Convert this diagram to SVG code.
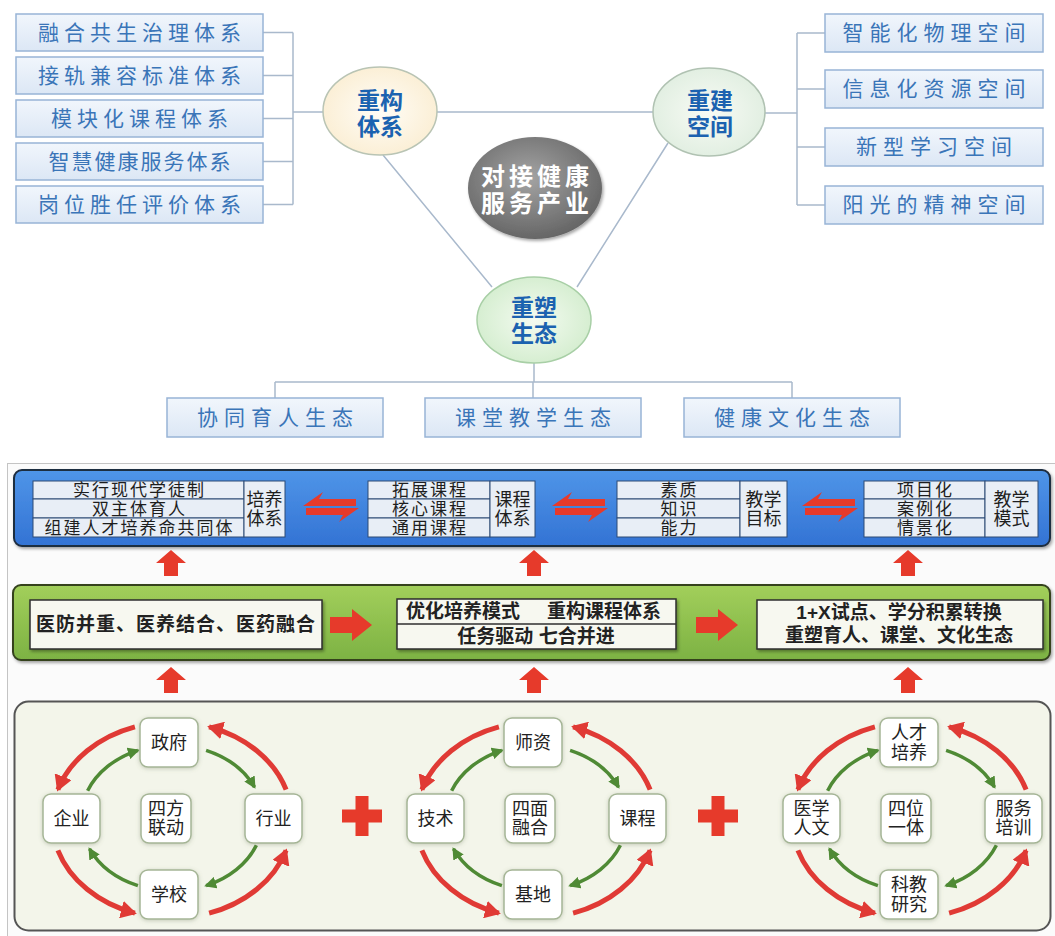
<svg xmlns="http://www.w3.org/2000/svg" width="1055" height="936" viewBox="0 0 1055 936">
<style>
text{font-family:"Liberation Sans","Noto Sans CJK SC",sans-serif;}
.lb{fill:url(#gBox);stroke:#98b4d6;stroke-width:1.5}
.lt{font-size:21px;fill:#3a75b8;text-anchor:middle;letter-spacing:5px}
.rt{font-size:21px;fill:#3a75b8;text-anchor:middle;letter-spacing:6px}
.con{fill:none;stroke:#a9b9cc;stroke-width:1.5}
.ct{font-size:23px;font-weight:bold;fill:#1b62b0;text-anchor:middle}
.cell{fill:#e8eef6;stroke:#2d4a74;stroke-width:1}
.tt{font-size:17px;fill:#1e1e1e;text-anchor:middle;letter-spacing:2px}
.tl{font-size:18px;fill:#1e1e1e;text-anchor:middle}
.gb{fill:#f7f8f0;stroke:#2f2f2f;stroke-width:1.5}
.gt{font-size:19px;font-weight:bold;fill:#222;text-anchor:middle}
.red{fill:#e63a2b}
.nb{fill:#fff;stroke:#a5b596;stroke-width:1.5}
.nt{font-size:18px;fill:#222;text-anchor:middle}
.ra{fill:none;stroke:#e03a35;stroke-width:5;marker-end:url(#mr)}
.ga{fill:none;stroke:#4f8a35;stroke-width:3.5;marker-end:url(#mg)}
</style>
<defs>
<linearGradient id="gBox" x1="0" y1="0" x2="0" y2="1"><stop offset="0" stop-color="#f1f6fc"/><stop offset="1" stop-color="#dce7f5"/></linearGradient>
<radialGradient id="gCream" cx="0.5" cy="0.5" r="0.5"><stop offset="0" stop-color="#fffdf7"/><stop offset="1" stop-color="#fbefd6"/></radialGradient>
<radialGradient id="gMint" cx="0.5" cy="0.5" r="0.5"><stop offset="0" stop-color="#f8fbf5"/><stop offset="1" stop-color="#e2efe2"/></radialGradient>
<radialGradient id="gGreen" cx="0.5" cy="0.5" r="0.5"><stop offset="0" stop-color="#f4fbf1"/><stop offset="1" stop-color="#d6eed1"/></radialGradient>
<radialGradient id="gGray" cx="0.45" cy="0.4" r="0.6"><stop offset="0" stop-color="#a4a4a4"/><stop offset="1" stop-color="#666"/></radialGradient>
<linearGradient id="gBlue" x1="0" y1="0" x2="0" y2="1"><stop offset="0" stop-color="#4f95e8"/><stop offset="1" stop-color="#3373d4"/></linearGradient>
<linearGradient id="gLime" x1="0" y1="0" x2="0" y2="1"><stop offset="0" stop-color="#a2cf5b"/><stop offset="1" stop-color="#7db243"/></linearGradient>
<filter id="sh" x="-10%" y="-10%" width="130%" height="140%"><feDropShadow dx="1.5" dy="2" stdDeviation="1.5" flood-color="#000" flood-opacity="0.35"/></filter>
<filter id="glow" x="-20%" y="-20%" width="140%" height="140%"><feDropShadow dx="0" dy="1" stdDeviation="2" flood-color="#6a7a5a" flood-opacity="0.35"/></filter>
<marker id="mr" viewBox="0 0 16 18" refX="14" refY="9" markerWidth="16" markerHeight="18" markerUnits="userSpaceOnUse" orient="auto"><path d="M0,0 L16,9 L0,18 Z" fill="#e03a35"/></marker>
<marker id="mg" viewBox="0 0 12 12" refX="10" refY="6" markerWidth="12" markerHeight="12" markerUnits="userSpaceOnUse" orient="auto"><path d="M0,0 L12,6 L0,12 Z" fill="#4f8a35"/></marker>
<g id="ring">
<path class="ra" d="M37.1,913.2 A120,98 0 0 0 114.1,850.3"/>
<path class="ra" d="M114.1,789.7 A120,98 0 0 0 37.1,726.8"/>
<path class="ra" d="M-37.1,726.8 A120,98 0 0 0 -114.1,789.7"/>
<path class="ra" d="M-114.1,850.3 A120,98 0 0 0 -37.1,913.2"/>
<path class="ga" d="M-84.4,790.7 A91,73 0 0 1 -34.1,750.3"/>
<path class="ga" d="M34.1,750.3 A91,73 0 0 1 82.5,787.1"/>
<path class="ga" d="M84.4,845.3 A91,73 0 0 1 34.1,885.7"/>
<path class="ga" d="M-34.1,885.7 A91,73 0 0 1 -82.5,848.9"/>
</g>
<g id="dbl" class="red">
<polygon points="25,-8 -12,-8 -8,-15 -28,-1 25,-1"/>
<polygon points="-25,8 12,8 8,15 28,1 -25,1"/>
</g>
<path id="up" class="red" d="M0,0 L15,13 L7,13 L7,26 L-7,26 L-7,13 L-15,13 Z"/>
<path id="rtar" class="red" d="M0,-8 L22,-8 L22,-16 L42,0 L22,16 L22,8 L0,8 Z"/>
<path id="plus" class="red" d="M-6.5,-20 H6.5 V-6.5 H20 V6.5 H6.5 V20 H-6.5 V6.5 H-20 V-6.5 H-6.5 Z"/>
</defs>

<rect x="0" y="0" width="1055" height="936" fill="#fff"/>

<!-- connectors -->
<g id="connectors">
<path class="con" d="M263,32.5 H293 M263,75.5 H293 M263,118.5 H293 M263,161.5 H293 M263,204.5 H293 M293,32.5 V204.5 M293,112 H323"/>
<path class="con" d="M765,113 H797 M797,33 V205 M797,33 H825 M797,89 H825 M797,147 H825 M797,205 H825"/>
<path class="con" d="M437,112 H653 M383,155 L492,287 M668,143 L577,287"/>
<path class="con" d="M534,363 V382 M275,382 H792 M275,382 V398 M533,382 V398 M792,382 V398"/>
</g>

<!-- left list -->
<g id="list-left">
<g id="l1"><rect class="lb" x="16" y="14" width="247" height="37"/><text class="lt" x="142" y="40">融合共生治理体系</text></g>
<g id="l2"><rect class="lb" x="16" y="57" width="247" height="37"/><text class="lt" x="142" y="83">接轨兼容标准体系</text></g>
<g id="l3"><rect class="lb" x="16" y="100" width="247" height="37"/><text class="lt" x="142" y="126">模块化课程体系</text></g>
<g id="l4"><rect class="lb" x="16" y="143" width="247" height="37"/><text class="lt" x="140.5" y="169" style="letter-spacing:2px">智慧健康服务体系</text></g>
<g id="l5"><rect class="lb" x="16" y="186" width="247" height="37"/><text class="lt" x="142" y="212">岗位胜任评价体系</text></g>
</g>

<!-- right list -->
<g id="list-right">
<g id="r1"><rect class="lb" x="825" y="14" width="218" height="38"/><text class="rt" x="937" y="40">智能化物理空间</text></g>
<g id="r2"><rect class="lb" x="825" y="70" width="218" height="38"/><text class="rt" x="937" y="96">信息化资源空间</text></g>
<g id="r3"><rect class="lb" x="825" y="128" width="218" height="38"/><text class="rt" x="937" y="154">新型学习空间</text></g>
<g id="r4"><rect class="lb" x="825" y="186" width="218" height="38"/><text class="rt" x="937" y="212">阳光的精神空间</text></g>
</g>

<!-- circles -->
<g id="c-system"><ellipse cx="380" cy="111" rx="57" ry="44" fill="url(#gCream)" stroke="#b9c4b4" stroke-width="1.5"/><text class="ct"><tspan x="380" y="109">重构</tspan><tspan x="380" y="135">体系</tspan></text></g>
<g id="c-space"><ellipse cx="709" cy="112" rx="56" ry="44" fill="url(#gMint)" stroke="#b0c2b2" stroke-width="1.5"/><text class="ct"><tspan x="710" y="109">重建</tspan><tspan x="710" y="135">空间</tspan></text></g>
<g id="c-core"><ellipse cx="535" cy="188" rx="67" ry="51" fill="url(#gGray)" filter="url(#sh)"/><text style="font-size:24px;font-weight:bold;fill:#fff;text-anchor:middle;letter-spacing:4px"><tspan x="537" y="185">对接健康</tspan><tspan x="537" y="212">服务产业</tspan></text></g>
<g id="c-eco"><ellipse cx="534" cy="320" rx="57" ry="43" fill="url(#gGreen)" stroke="#a8cfa6" stroke-width="1.5"/><text class="ct"><tspan x="534" y="316">重塑</tspan><tspan x="534" y="342">生态</tspan></text></g>

<!-- ecology boxes -->
<g id="eco-list">
<g id="e1"><rect class="lb" x="167" y="398" width="216" height="39"/><text class="rt" x="278" y="425">协同育人生态</text></g>
<g id="e2"><rect class="lb" x="425" y="398" width="216" height="39"/><text class="rt" x="536" y="425">课堂教学生态</text></g>
<g id="e3"><rect class="lb" x="684" y="398" width="216" height="39"/><text class="rt" x="795" y="425">健康文化生态</text></g>
</g>

<!-- lower frame -->
<rect x="7.5" y="463.5" width="1060" height="480" fill="#fbfbfb" stroke="#c4c4c4" stroke-width="1"/>

<!-- blue band -->
<g id="band-blue">
<rect x="14" y="470" width="1036" height="76" rx="8" fill="url(#gBlue)" stroke="#1f2d40" stroke-width="2" filter="url(#sh)"/>
<g id="t-train">
<rect class="cell" x="33" y="481" width="211" height="18"/><rect class="cell" x="33" y="499" width="211" height="19"/><rect class="cell" x="33" y="518" width="211" height="19"/><rect class="cell" x="244" y="481" width="41" height="56"/>
<text class="tt"><tspan x="139.5" y="496">实行现代学徒制</tspan><tspan x="139.5" y="515">双主体育人</tspan><tspan x="139.5" y="534">组建人才培养命共同体</tspan></text>
<text class="tl"><tspan x="264.5" y="506">培养</tspan><tspan x="264.5" y="525">体系</tspan></text>
</g>
<g id="t-course">
<rect class="cell" x="368" y="481" width="122" height="18"/><rect class="cell" x="368" y="499" width="122" height="19"/><rect class="cell" x="368" y="518" width="122" height="19"/><rect class="cell" x="490" y="481" width="45" height="56"/>
<text class="tt"><tspan x="430" y="496">拓展课程</tspan><tspan x="430" y="515">核心课程</tspan><tspan x="430" y="534">通用课程</tspan></text>
<text class="tl"><tspan x="512.5" y="506">课程</tspan><tspan x="512.5" y="525">体系</tspan></text>
</g>
<g id="t-goal">
<rect class="cell" x="617" y="481" width="123" height="18"/><rect class="cell" x="617" y="499" width="123" height="19"/><rect class="cell" x="617" y="518" width="123" height="19"/><rect class="cell" x="740" y="481" width="47" height="56"/>
<text class="tt"><tspan x="679.5" y="496">素质</tspan><tspan x="679.5" y="515">知识</tspan><tspan x="679.5" y="534">能力</tspan></text>
<text class="tl"><tspan x="763.5" y="506">教学</tspan><tspan x="763.5" y="525">目标</tspan></text>
</g>
<g id="t-mode">
<rect class="cell" x="864" y="481" width="121" height="18"/><rect class="cell" x="864" y="499" width="121" height="19"/><rect class="cell" x="864" y="518" width="121" height="19"/><rect class="cell" x="985" y="481" width="53" height="56"/>
<text class="tt"><tspan x="925.5" y="496">项目化</tspan><tspan x="925.5" y="515">案例化</tspan><tspan x="925.5" y="534">情景化</tspan></text>
<text class="tl"><tspan x="1011.5" y="506">教学</tspan><tspan x="1011.5" y="525">模式</tspan></text>
</g>
<use href="#dbl" x="331" y="507"/>
<use href="#dbl" x="580" y="507"/>
<use href="#dbl" x="830" y="507"/>
</g>

<!-- up arrows -->
<g id="up-arrows">
<use href="#up" x="171" y="550"/><use href="#up" x="534" y="550"/><use href="#up" x="908" y="550"/>
<use href="#up" x="171" y="667"/><use href="#up" x="534" y="667"/><use href="#up" x="908" y="667"/>
</g>

<!-- green band -->
<g id="band-green">
<rect x="13" y="585" width="1037" height="75" rx="8" fill="url(#gLime)" stroke="#34421f" stroke-width="2" filter="url(#sh)"/>
<g id="g1"><rect class="gb" x="30" y="600" width="292" height="49" filter="url(#sh)"/><text class="gt" x="176" y="631" style="letter-spacing:1px">医防并重、医养结合、医药融合</text></g>
<use href="#rtar" x="330" y="625"/>
<g id="g2"><rect class="gb" x="397" y="599" width="279" height="50" filter="url(#sh)"/><line x1="397" y1="624" x2="676" y2="624" stroke="#2f2f2f" stroke-width="1.5"/>
<text class="gt"><tspan x="463" y="618">优化培养模式</tspan><tspan x="604" y="618">重构课程体系</tspan><tspan x="536" y="643">任务驱动 七合并进</tspan></text></g>
<use href="#rtar" x="696" y="625"/>
<g id="g3"><rect class="gb" x="757" y="600" width="286" height="49" filter="url(#sh)"/>
<text class="gt"><tspan x="899" y="619">1+X试点、学分积累转换</tspan><tspan x="899" y="642">重塑育人、课堂、文化生态</tspan></text></g>
</g>

<!-- bottom panel -->
<rect x="14.5" y="701.5" width="1036" height="229" rx="14" fill="#f3f5ea" stroke="#555" stroke-width="2"/>

<g id="rings">
<use href="#ring" x="172"/>
<use href="#ring" x="536"/>
<use href="#ring" x="912"/>
</g>

<g id="cycle1">
<g id="n-gov"><rect class="nb" x="140" y="718" width="58" height="49" rx="8" filter="url(#glow)"/><text class="nt" x="169" y="749">政府</text></g>
<g id="n-ent"><rect class="nb" x="43" y="794" width="57" height="49" rx="8" filter="url(#glow)"/><text class="nt" x="71.5" y="825">企业</text></g>
<g id="n-ind"><rect class="nb" x="245" y="794" width="57" height="49" rx="8" filter="url(#glow)"/><text class="nt" x="273.5" y="825">行业</text></g>
<g id="n-sch"><rect class="nb" x="140" y="870" width="58" height="49" rx="8" filter="url(#glow)"/><text class="nt" x="169" y="901">学校</text></g>
<g id="n-4a"><rect class="nb" x="141" y="794" width="50" height="49" rx="8" filter="url(#glow)"/><text class="nt"><tspan x="166" y="815">四方</tspan><tspan x="166" y="834">联动</tspan></text></g>
</g>
<g id="cycle2">
<g id="n-tea"><rect class="nb" x="504" y="718" width="58" height="49" rx="8" filter="url(#glow)"/><text class="nt" x="533" y="749">师资</text></g>
<g id="n-tec"><rect class="nb" x="407" y="794" width="57" height="49" rx="8" filter="url(#glow)"/><text class="nt" x="435.5" y="825">技术</text></g>
<g id="n-cur"><rect class="nb" x="609" y="794" width="57" height="49" rx="8" filter="url(#glow)"/><text class="nt" x="637.5" y="825">课程</text></g>
<g id="n-base"><rect class="nb" x="504" y="870" width="58" height="49" rx="8" filter="url(#glow)"/><text class="nt" x="533" y="901">基地</text></g>
<g id="n-4b"><rect class="nb" x="505" y="794" width="50" height="49" rx="8" filter="url(#glow)"/><text class="nt"><tspan x="530" y="815">四面</tspan><tspan x="530" y="834">融合</tspan></text></g>
</g>
<g id="cycle3">
<g id="n-tal"><rect class="nb" x="880" y="718" width="58" height="49" rx="8" filter="url(#glow)"/><text class="nt"><tspan x="909" y="739">人才</tspan><tspan x="909" y="759">培养</tspan></text></g>
<g id="n-med"><rect class="nb" x="783" y="794" width="57" height="49" rx="8" filter="url(#glow)"/><text class="nt"><tspan x="811.5" y="815">医学</tspan><tspan x="811.5" y="834">人文</tspan></text></g>
<g id="n-srv"><rect class="nb" x="985" y="794" width="57" height="49" rx="8" filter="url(#glow)"/><text class="nt"><tspan x="1013.5" y="815">服务</tspan><tspan x="1013.5" y="834">培训</tspan></text></g>
<g id="n-res"><rect class="nb" x="880" y="870" width="58" height="49" rx="8" filter="url(#glow)"/><text class="nt"><tspan x="909" y="891">科教</tspan><tspan x="909" y="911">研究</tspan></text></g>
<g id="n-4c"><rect class="nb" x="881" y="794" width="50" height="49" rx="8" filter="url(#glow)"/><text class="nt"><tspan x="906" y="815">四位</tspan><tspan x="906" y="834">一体</tspan></text></g>
</g>

<g id="plus-signs">
<use href="#plus" x="362" y="816"/>
<use href="#plus" x="718" y="816"/>
</g>
</svg>
